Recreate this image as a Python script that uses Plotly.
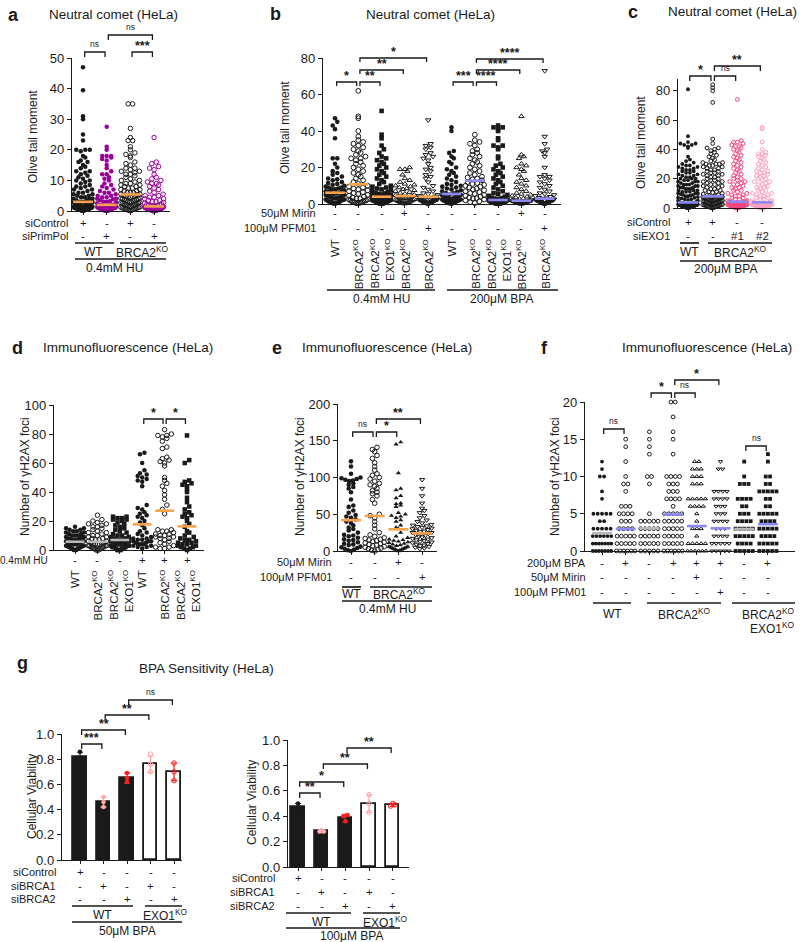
import numpy as np
import plotly.graph_objects as go

# ====================== DATA ======================
# ---- a: Neutral comet, 0.4mM HU ----
a_siControl = ["+", "-", "+", "-"]
a_siPrimPol = ["-", "+", "-", "+"]
a_wt_ctrl = [47, 39.5, 31, 30, 25, 23, 20, 20, 20, 19.5, 18, 17.5, 16.5, 16, 16, 15, 14.5, 14, 13, 13, 12.5, 12, 11.5, 11,
             10.5, 10, 10, 9.5, 9, 8.5, 8, 8, 7.5, 7, 7, 6.5, 6, 6, 5.5, 5.5, 5, 5, 4.5, 4.5, 4, 4, 4, 3.5, 3.5, 3, 3, 3,
             2.9, 2.8, 2.7, 2.6, 2.5, 2.5, 2.4, 2.3, 2.2, 2.1, 2, 2, 2, 1.9, 1.8, 1.7, 1.6, 1.5, 1.5, 1.5, 1.4, 1.3, 1.2,
             1.1, 1, 1, 1, 1, 0.9, 0.9, 0.8, 0.8, 0.7, 0.7, 0.6, 0.6, 0.5, 0.5, 0.5, 0.4, 0.4, 0.3, 0.3, 0.3, 0.2, 0.2,
             0.15, 0.1, 0.1]
a_wt_prim = [27.5, 21, 20, 18, 18, 18, 17.5, 17, 16.5, 15, 14, 13, 12, 12, 11, 10.5, 10, 9, 8.5, 8, 7.5, 7, 6.5, 6, 6,
             5.5, 5, 5, 4.5, 4.5, 4, 4, 3.8, 3.5, 3.2, 3, 3, 2.8, 2.5, 2.2, 2, 2, 1.95, 1.9, 1.85, 1.8, 1.7, 1.6, 1.5,
             1.5, 1.4, 1.3, 1.2, 1.2, 1.1, 1, 1, 1, 0.95, 0.9, 0.9, 0.8, 0.8, 0.7, 0.7, 0.6, 0.6, 0.5, 0.5, 0.5, 0.4,
             0.4, 0.3, 0.3, 0.3, 0.2, 0.2, 0.2, 0.1, 0.1, 0.1, 0.05]
a_ko_ctrl = [35, 35, 27, 24, 23, 23, 21, 20, 19, 18.5, 18, 17.5, 16, 15.5, 15, 14, 14, 13.5, 13, 13, 12.5, 12, 12, 11.5,
             11, 10.5, 10, 10, 9.5, 9, 9, 8.5, 8.5, 8, 8, 7.5, 7.5, 7, 7, 6.5, 6.5, 6, 6, 6, 5.5, 5.5, 5.3, 5, 5, 4.8,
             4.7, 4.5, 4.5, 4.3, 4.2, 4, 4, 3.8, 3.7, 3.5, 3.5, 3.3, 3.2, 3, 3, 2.8, 2.7, 2.6, 2.5, 2.5, 2.3, 2.2, 2.1,
             2, 2, 1.8, 1.7, 1.5, 1.5, 1.3, 1.2, 1.1, 1, 1, 0.9, 0.8, 0.7, 0.6, 0.5, 0.4, 0.3, 0.2, 0.1]
a_ko_prim = [24, 16, 15.5, 14.5, 14, 13.5, 12, 11, 10.5, 10, 9.5, 9, 9, 8.5, 8, 7.5, 7, 6.5, 6, 5.5, 5, 5, 4.5, 4.5, 4, 4,
             3.5, 3.5, 3, 3, 2.8, 2.5, 2.3, 2.1, 2, 1.9, 1.8, 1.7, 1.5, 1.5, 1.4, 1.3, 1.2, 1.15, 1.1, 1.05, 1, 1, 0.95,
             0.9, 0.9, 0.85, 0.8, 0.8, 0.75, 0.7, 0.7, 0.65, 0.6, 0.6, 0.55, 0.5, 0.5, 0.45, 0.4, 0.4, 0.35, 0.3, 0.3,
             0.25, 0.2, 0.2, 0.15, 0.1, 0.1, 0.05]
a_median = [3.0, 2.0, 5.4, 1.5]

# ---- b: Neutral comet, HU and BPA ----
b_mirin = ["-", "-", "-", "+", "-", "-", "-", "-", "+", "-"]
b_pfm01 = ["-", "-", "-", "-", "+", "-", "-", "-", "-", "+"]
b_labels = ["WT", "BRCA2<sup>KO</sup>", "BRCA2<sup>KO</sup><br>EXO1<sup>KO</sup>", "BRCA2<sup>KO</sup>", "BRCA2<sup>KO</sup>"] * 2
b_hu_wt = [47, 45, 43, 41, 36, 25, 25, 22, 20, 18, 17, 16, 15, 14, 13.5, 13, 12, 11.5, 11, 10.5, 10, 9.5, 9, 9, 8.5, 8,
           8, 7.5, 7, 7, 6.8, 6.2, 6, 5.8, 5.5, 5, 5, 4.5, 4.5, 4, 4, 3.5, 3.5, 3, 3, 2.5, 2.5, 2, 2, 1.5, 1.5, 1, 1,
           0.8, 0.5, 0.5, 0.3, 0.2, 1.2, 2.2, 3.2]
b_hu_ko = [62, 48, 47, 40, 37, 35, 34, 33, 32, 31, 30, 29, 28, 27, 26, 25, 25, 24, 23, 22, 21, 20, 19, 18, 17, 16, 15, 14,
           13, 12, 11, 10, 9.5, 9, 8.5, 8, 7.5, 7, 6.5, 6, 5.5, 5, 4.5, 4, 3.5, 3, 3, 2.5, 2.5, 2, 2, 1.5, 1.5, 1, 1,
           0.5, 0.5, 0.3, 0.8, 1.2, 1.8]
b_hu_ko_exo1 = [51, 38, 36, 32, 30, 28, 26, 25, 24, 23, 22, 21, 20, 19, 18, 17, 16, 15, 14, 13, 12, 11, 10, 9.5, 9, 8.5,
                8, 7.5, 7, 6.5, 6, 5.8, 5.5, 5.2, 5, 4.8, 4.5, 4.3, 4.1, 3.9, 3.7, 3.5, 3.3, 3.1, 2.9, 2.7, 2.5, 2.3,
                2.1, 1.9, 1.7, 1.5, 1.3, 1.1, 0.9, 0.7, 0.5, 0.3, 0.1, 0.2, 0.4, 0.6, 0.8, 1.0, 1.2, 1.4, 1.6, 1.8,
                2.0, 2.2, 2.4, 2.6, 2.8, 3.0, 3.2, 3.4, 3.6]
b_hu_ko_mirin = [20, 19, 19, 18, 16, 14, 13, 12, 11, 10.5, 10, 9.5, 9, 8.5, 8, 7.5, 7, 6.5, 6, 5.5, 5, 4.8, 4.2, 4, 3.8,
                 3.5, 3.2, 3, 2.8, 2.5, 2.2, 2, 1.8, 1.5, 1.2, 1, 0.8, 0.5, 0.3, 0.2, 1.3, 2.3, 3.3, 0.6]
b_hu_ko_pfm = [46, 33, 32, 31, 30, 28, 27, 26, 25, 24, 22, 20, 19, 18, 16, 15, 14, 12, 10, 9, 8, 7, 6, 5.5, 5, 4.5, 4.2,
               3.8, 3.5, 3.2, 3, 2.8, 2.5, 2.2, 2, 1.8, 1.5, 1.2, 1, 0.8, 0.5, 0.3, 0.2, 1.4, 2.4, 3.4, 0.6, 0.9, 1.6,
               2.6, 3.6, 0.4, 1.1, 2.1]
b_bpa_wt = [42, 40, 29, 28, 26, 25, 23, 22, 20, 19, 18, 17, 16, 15, 14, 13, 12, 11, 10.5, 10, 9.5, 9, 8.5, 8, 7.5, 7, 6.5,
            6, 5.8, 5.2, 5, 4.8, 4.5, 4.2, 4, 3.8, 3.5, 3.2, 3, 2.8, 2.5, 2.2, 2, 1.8, 1.5, 1.2, 1, 0.8, 0.5, 0.3, 0.2,
            1.4, 2.4, 3.4, 4.4, 0.6, 1.6, 2.6]
b_bpa_ko = [38, 35, 34, 33, 32, 30, 29, 28, 27, 26, 25, 24, 23, 22, 21, 20, 19, 18, 17, 16, 15, 14.5, 14, 13.5, 13, 12,
            11.5, 11, 10.5, 10, 9.5, 9, 8.5, 8, 7.5, 7, 6.5, 6, 5.5, 5, 4.5, 4, 3.5, 3, 2.5, 2, 1.5, 1, 0.5, 3.2]
b_bpa_ko_exo1 = [43, 42, 42, 41, 40, 36, 35, 32, 32, 31, 30, 26, 25, 22, 21, 20, 19, 18, 17, 16, 15, 14, 13, 12, 11, 10,
                 9, 8, 7, 6, 5.5, 5, 4.5, 4, 3.5, 3.2, 3, 2.8, 2.6, 2.4, 2.3, 2.2, 2.1, 2, 1.9, 1.8, 1.7, 1.6, 1.5,
                 1.4, 1.3, 1.2, 1.1, 1, 0.9, 0.8, 0.7, 0.6, 0.5, 0.4, 0.3, 0.2, 0.1, 0.15, 0.25, 0.35, 0.45, 0.55,
                 0.65, 0.75, 0.85, 0.95, 1.05, 1.15, 1.25, 1.35, 1.45, 1.55]
b_bpa_ko_mirin = [48, 27, 26, 25, 22, 21, 20, 19, 18, 16, 14, 13, 12, 11, 10, 9, 8, 7, 6, 5.5, 5, 4.5, 4, 3.5, 3, 2.8,
                  2.5, 2.2, 1.9, 1.8, 1.7, 1.6, 1.5, 1.4, 1.3, 1.2, 1.1, 1, 0.9, 0.8, 0.7, 0.6, 0.5, 0.4, 0.3, 0.2,
                  0.1, 0.15, 0.35, 0.55, 0.75, 0.95, 1.15, 1.35, 1.55, 1.75]
b_bpa_ko_pfm = [73, 37, 33, 30, 29, 28, 26, 20, 16, 15, 15, 14, 13, 12, 11, 10, 9, 8, 7, 6, 5.5, 5, 4.5, 4, 3.5, 3.2,
                2.8, 2.6, 2.4, 2.2, 2, 1.8, 1.6, 1.4, 1.2, 1, 0.8, 0.6, 0.4, 0.2, 0.1, 0.3, 0.5, 0.7, 0.9, 1.1, 1.3,
                1.5, 1.7, 1.9, 2.1, 2.3]
b_median = [6.2, 10.8, 4.0, 4.4, 4.0, 5.5, 12.8, 2.2, 1.8, 2.9]

# ---- c: Neutral comet, 200uM BPA ----
c_siControl = ["+", "+", "-", "-"]
c_siEXO1 = ["-", "-", "#1", "#2"]
c_wt_ctrl = [81, 49, 45, 44, 44, 43, 43, 42, 41, 35, 33, 32, 31, 30, 29, 29, 28, 28, 27, 27, 26, 26, 25, 25, 24, 24, 23,
             23, 22, 22, 21, 21, 20, 20, 20, 19, 19, 18, 18, 18, 17, 17, 16, 16, 16, 15, 15, 15, 14, 14, 14, 13, 13, 13,
             12, 12, 12, 11, 11, 11, 10, 10, 10, 9.5, 9, 9, 8.5, 8, 8, 7.5, 7, 7, 6.5, 6, 6, 5.5, 5, 5, 4.5, 4.2, 4,
             3.9, 3.7, 3.6, 3.5, 3.4, 3.3, 3.2, 3.1, 3.0, 2.9, 2.8, 2.7, 2.6, 2.5, 2.4, 2.3, 2.2, 2.1, 2.0, 1.9, 1.8,
             1.7, 1.6, 1.5, 1.4, 1.3, 1.2, 1.1, 1.0, 0.9, 0.8, 0.7, 0.6, 0.5, 0.4, 0.3, 0.2, 0.1, 0.0, 3.65, 3.25,
             2.85, 2.45, 2.05, 1.65, 1.25, 0.85, 0.45, 0.05, 0.25, 0.65, 1.05, 1.45, 1.85, 2.25, 2.65, 3.05, 3.45,
             0.15, 0.35, 0.55, 0.75]
c_ko_ctrl = [84, 82, 80, 72, 47, 44, 41, 41, 40, 39, 38, 37, 36, 35, 34, 33, 32, 31, 31, 30, 30, 30, 29, 29, 28, 28, 27,
             27, 26, 26, 25, 25, 24, 24, 23, 23, 22, 22, 21, 21, 20, 20, 19, 19, 18, 18, 17, 17, 16, 16, 15, 15, 14, 14,
             13, 13, 12, 12, 11, 11, 10.5, 10, 9.5, 9, 8.5, 8, 7.8, 7.5, 7.2, 7, 6.8, 6.5, 6.2, 6, 5.8, 5.5, 5.2, 5,
             4.8, 4.5, 4.2, 4, 3.8, 3.5, 3.2, 3, 2.8, 2.5, 2.2, 2, 1.8, 1.5, 1.2, 1, 0.8, 0.5, 0.2, 0, 0.3, 0.6, 0.9,
             1.3, 1.6, 1.9, 2.3, 2.6, 2.9, 3.3, 3.6, 3.9, 4.3, 4.6, 4.9, 5.3, 5.6, 5.9, 6.3, 6.6, 6.9, 7.3, 7.6]
c_ko_siexo1_1 = [74, 46, 45, 45, 44, 43, 42, 42, 41, 40, 39, 38, 37, 36, 35, 34, 33, 32, 31, 30, 29, 28, 27, 26, 25, 24,
                 23, 22, 21, 20, 20, 19, 18, 18, 17, 16, 16, 15, 14, 14, 13, 12, 12, 11, 10, 10, 9, 9, 8, 8, 7, 7, 6,
                 6, 5, 5, 4.5, 4.2, 4.0, 3.8, 3.6, 3.4, 3.2, 3.0, 2.8, 2.6, 2.4, 2.2, 2.0, 1.8, 1.6, 1.4, 1.2, 1.0,
                 0.8, 0.6, 0.4, 0.2, 0.0, 0.1, 0.3, 0.5, 0.7, 0.9, 1.1, 1.3, 1.5, 1.7, 1.9, 2.1, 2.3, 2.5, 2.7, 2.9,
                 3.1, 3.3, 3.5, 3.7, 3.9, 4.1, 0.05, 0.15]
c_ko_siexo1_2 = [55, 54, 45, 40, 38, 37, 37, 36, 35, 34, 33, 32, 31, 30, 29, 28, 27, 26, 25, 25, 24, 24, 23, 22, 22, 21,
                 20, 20, 19, 18, 18, 17, 16, 16, 15, 14, 14, 13, 12, 12, 11, 10, 10, 9, 9, 8, 8, 7, 7, 6, 6, 5, 5, 4.5,
                 4, 3.7, 3.5, 3.3, 3.1, 2.9, 2.7, 2.5, 2.3, 2.1, 1.9, 1.7, 1.5, 1.3, 1.1, 0.9, 0.7, 0.5, 0.3, 0.1, 0.0,
                 0.2, 0.4, 0.6, 0.8, 1.0, 1.2, 1.4, 1.6, 1.8, 2.0, 2.2, 2.4, 2.6, 2.8, 3.0, 3.2, 3.4, 3.6, 0.05, 0.15]
c_median = [3.8, 7.9, 4.3, 3.8]

# ---- d: Immunofluorescence, gH2AX foci, +/- HU ----
d_hu = ["-", "-", "-", "+", "+", "+"]
d_labels = ["WT", "BRCA2<sup>KO</sup>", "BRCA2<sup>KO</sup><br>EXO1<sup>KO</sup>"] * 2
d_wt = [16, 15, 15, 14, 14, 13, 13, 12, 12, 11, 11, 10, 10, 10, 9, 9, 9, 8, 8, 8, 7, 7, 7, 6, 6, 5, 5, 5, 4, 4, 4, 3, 3,
        3, 2, 2, 2, 1, 1, 1, 0, 0, 0, 1, 2, 3, 4, 5, 6]
d_ko = [24, 21, 20, 19, 18, 18, 17, 16, 16, 15, 14, 13, 12, 12, 11, 10, 10, 9, 9, 8, 8, 7, 7, 6, 6, 5, 5, 5, 4, 4, 4, 3,
        3, 3, 2, 2, 2, 1, 1, 1, 0, 0, 0, 1, 2, 3, 4]
d_ko_exo1 = [23, 23, 22, 22, 21, 21, 20, 19, 18, 17, 16, 15, 14, 13, 12, 11, 10, 10, 9, 9, 8, 8, 7, 7, 6, 6, 5, 5, 4, 4,
             3, 3, 2, 2, 1, 1, 0, 0, 1, 2, 3, 4, 5, 6, 0]
d_hu_wt = [67, 66, 60, 55, 53, 52, 51, 50, 49, 48, 47, 44, 31, 29, 28, 26, 25, 24, 23, 22, 20, 19, 17, 15, 13, 12, 11, 10,
           9, 8, 7, 7, 6, 6, 5, 5, 4, 4, 3, 3, 2, 2, 1, 8, 6, 4]
d_hu_ko = [83, 80, 79, 79, 78, 77, 75, 71, 70, 64, 63, 62, 61, 60, 58, 50, 48, 46, 44, 41, 38, 35, 31, 28, 25, 14, 14, 13,
           13, 12, 11, 11, 10, 10, 9, 9, 8, 8, 7, 6, 5, 4, 3, 2, 2, 1, 1]
d_hu_ko_exo1 = [79, 62, 60, 48, 47, 46, 45, 44, 42, 40, 36, 33, 30, 28, 26, 25, 24, 23, 22, 20, 18, 16, 13, 12, 10, 9, 8,
                7, 7, 6, 5, 5, 4, 4, 3, 3, 2, 2, 1, 1, 0]
d_median = [5.7, 5.7, 6.9, 17.7, 27.1, 16.3]

# ---- e: Immunofluorescence, 0.4mM HU ----
e_mirin = ["-", "-", "+", "-"]
e_pfm01 = ["-", "-", "-", "+"]
e_wt = [122, 115, 105, 100, 99, 98, 97, 96, 95, 92, 90, 87, 85, 80, 70, 62, 60, 55, 52, 49, 47, 45, 43, 40, 38, 35, 32,
        30, 28, 25, 22, 20, 18, 16, 14, 12, 10, 8, 6, 5, 4, 3, 2, 1, 0, 9, 15, 21]
e_ko = [141, 138, 135, 130, 126, 120, 115, 110, 105, 103, 100, 98, 95, 92, 90, 88, 85, 82, 80, 78, 75, 70, 65, 50, 48,
        45, 40, 35, 30, 25, 22, 20, 18, 16, 14, 12, 10, 9, 8, 7, 6, 5, 4, 3, 2, 1, 0, 11, 13, 15, 17]
e_ko_mirin = [148, 145, 106, 85, 83, 75, 72, 65, 64, 62, 60, 52, 50, 48, 47, 45, 42, 40, 35, 32, 30, 25, 20, 18, 16, 14,
              12, 10, 9, 8, 7, 6, 5, 4, 3, 2, 1, 0, 1, 3, 5, 11, 13, 15, 2, 4, 6]
e_ko_pfm = [97, 85, 75, 65, 58, 55, 52, 48, 45, 42, 40, 38, 36, 34, 32, 30, 28, 26, 25, 24, 22, 21, 20, 19, 18, 17, 16,
            15, 14, 13, 12, 11, 10, 9, 8, 7, 6, 5, 4, 3, 25, 27, 29, 31, 33, 35]
e_median = [42, 47.6, 29.5, 24]

# ---- f: Immunofluorescence, BPA (frequency of cells with 0,1,2,... foci) ----
f_bpa = ["-", "+", "-", "+", "+", "+", "-", "+"]
f_mirin = ["-", "-", "-", "-", "+", "-", "-", "-"]
f_pfm01 = ["-", "-", "-", "-", "-", "+", "-", "-"]
f_wt_counts = [7, 7, 6, 5, 2, 5, 0, 1, 1, 0, 2, 1, 1]
f_wt_bpa_counts = [6, 5, 5, 4, 3, 4, 3, 0, 1, 2, 1, 0, 1, 0, 1, 1]
f_ko_counts = [5, 5, 5, 5, 5, 1, 0, 0, 0, 1, 2, 0, 0, 1, 1, 1, 1]
f_ko_bpa_counts = [6, 5, 5, 5, 5, 5, 1, 4, 3, 3, 4, 0, 0, 1, 0, 1, 1, 0, 1, 0, 2]
f_ko_bpa_mirin_counts = [6, 5, 1, 3, 1, 1, 4, 5, 0, 3, 3, 3, 2]
f_ko_bpa_pfm_counts = [5, 5, 4, 3, 4, 3, 3, 4, 4, 0, 0, 2, 1]
f_ko_exo1_counts = [5, 4, 5, 5, 4, 3, 2, 4, 0, 3, 1, 0, 1]
f_ko_exo1_bpa_counts = [5, 5, 4, 5, 4, 5, 2, 2, 5, 2, 2, 0, 1, 1]
f_centre = [2.4, 2.95, 3.05, 4.9, 3.35, 3.05, 2.95, 3.6]

# ---- g: BPA sensitivity ----
g_siControl = ["+", "-", "-", "-", "-"]
g_siBRCA1 = ["-", "+", "-", "+", "-"]
g_siBRCA2 = ["-", "-", "+", "-", "+"]
g50_mean = [0.82, 0.46, 0.65, 0.76, 0.70]
g50_sd = [0.035, 0.04, 0.04, 0.065, 0.07]
g50_points = [[0.86, 0.81, 0.80], [0.50, 0.46, 0.42], [0.69, 0.65, 0.62], [0.84, 0.76, 0.70], [0.77, 0.70, 0.63]]
g100_mean = [0.47, 0.28, 0.385, 0.50, 0.49]
g100_sd = [0.03, 0.01, 0.03, 0.07, 0.012]
g100_points = [[0.50, 0.47, 0.45], [0.29, 0.28, 0.28], [0.41, 0.40, 0.36], [0.57, 0.50, 0.43], [0.50, 0.49, 0.48]]

# ====================== STYLE / GEOMETRY ======================
W, H = 800, 942
FONT = "Liberation Sans, Arial, Helvetica, sans-serif"
INK = "#1a1a1a"
ORANGE = "#f9a24a"
BLUE = "#8a8af2"
GRAY = "#b8b8b8"
PURPLE = "#990099"
HOTPINK = "#f2457f"
LIGHTPINK = "#ff9fc2"
RED = "#ff1f1f"
PINK = "#ffa8a8"
TICK = 13
LAB = 12
ROWLAB = 11
CELL = 11.5

GEOM = {
    "a": dict(left=72, right=170, top=58, bottom=211, c0=83, step=23.7, ymax=50, yticks=[0, 10, 20, 30, 40, 50], n=4),
    "b": dict(left=323, right=561, top=58, bottom=204, c0=335, step=23.3, ymax=80, yticks=[0, 20, 40, 60, 80], n=10),
    "c": dict(left=678, right=782, top=79, bottom=208, c0=688, step=24.7, ymax=88, yticks=[0, 20, 40, 60, 80], n=4),
    "d": dict(left=54, right=204, top=405, bottom=550, c0=75, step=22.4, ymax=100, yticks=[0, 20, 40, 60, 80, 100], n=6),
    "e": dict(left=338, right=437, top=404, bottom=551, c0=351, step=23.7, ymax=200, yticks=[0, 50, 100, 150, 200], n=4),
    "f": dict(left=585, right=795, top=402, bottom=551, c0=602, step=23.7, ymax=20, yticks=[0, 5, 10, 15, 20], n=8),
    "g1": dict(left=62, right=182, top=734, bottom=860, c0=80, step=23.5, ymax=1.0, yticks=[0, .2, .4, .6, .8, 1.0], n=5, fmt=".1f"),
    "g2": dict(left=288, right=409, top=740, bottom=867, c0=298, step=23.7, ymax=1.0, yticks=[0, .2, .4, .6, .8, 1.0], n=5, fmt=".1f"),
}


def px(x):
    return x / W


def py(y):
    return 1 - y / H


fig = go.Figure()
annotations, shapes, axes = [], [], {}
REF = {}
for k, (name, g) in enumerate(GEOM.items(), start=1):
    sfx = "" if k == 1 else str(k)
    REF[name] = ("x" + sfx, "y" + sfx)
    xr = [(g["left"] - g["c0"]) / g["step"], (g["right"] - g["c0"]) / g["step"]]
    axes["xaxis" + sfx] = dict(domain=[px(g["left"]), px(g["right"])], range=xr, anchor="y" + sfx,
                               showline=True, linecolor=INK, linewidth=1.4, ticks="outside",
                               tickvals=list(range(g["n"])), ticklen=3, tickwidth=1.1, tickcolor=INK,
                               showticklabels=False, showgrid=False, zeroline=False, fixedrange=True,
                               automargin=False)
    axes["yaxis" + sfx] = dict(domain=[py(g["bottom"]), py(g["top"])], range=[0, g["ymax"]], anchor="x" + sfx,
                               showline=True, linecolor=INK, linewidth=1.4, ticks="outside", tickvals=g["yticks"],
                               ticklen=4, tickwidth=1.2, tickcolor=INK, tickformat=g.get("fmt", ""),
                               tickfont=dict(size=TICK, color=INK, family=FONT),
                               showgrid=False, zeroline=False, fixedrange=True, automargin=False)


def swarm(vals, ppu_y, ppu_x, binh, sp, maxw):
    vals = np.asarray(vals, float)
    bins = np.floor(vals * ppu_y / binh + 1e-6).astype(int)
    off = np.zeros(len(vals))
    for b in np.unique(bins):
        idx = np.where(bins == b)[0]
        idx = idx[np.argsort(vals[idx], kind="stable")]
        n = len(idx)
        if n == 1:
            continue
        s = min(sp, maxw / (n - 1))
        slots = (np.arange(n) - (n - 1) / 2) * s
        order = np.argsort(np.abs(slots) + 1e-9 * np.arange(n), kind="stable")
        for j, i in enumerate(idx):
            off[i] = slots[order[j]]
    return off / ppu_x


def dots(p, col, vals, symbol, color, size, diam=None, binh=None, open_=False, maxw=None):
    g = GEOM[p]
    ppu_y = (g["bottom"] - g["top"]) / g["ymax"]
    diam = diam or size
    binh = binh or diam
    maxw = maxw or g["step"] * 0.8
    off = swarm(vals, ppu_y, g["step"], binh, diam, maxw)
    xr, yr = REF[p]
    mk = dict(symbol=symbol, size=size, color=color)
    mk["line"] = dict(width=1.0 if open_ else 0, color=color)
    fig.add_trace(go.Scatter(x=col + off, y=vals, mode="markers", xaxis=xr, yaxis=yr, marker=mk,
                             cliponaxis=False, showlegend=False, hoverinfo="skip"))


def cline(p, col, val, color, half=0.42, width=2.6):
    xr, yr = REF[p]
    fig.add_trace(go.Scatter(x=[col - half, col + half], y=[val, val], mode="lines", xaxis=xr, yaxis=yr,
                             line=dict(color=color, width=width), cliponaxis=False, showlegend=False,
                             hoverinfo="skip"))


def text(x, y, s, size=11, xanchor="center", yanchor="middle", bold=False, angle=0, xref="paper", align="center",
         color=INK):
    annotations.append(dict(x=x if xref != "paper" else px(x), y=py(y), xref=xref, yref="paper",
                            text=("<b>%s</b>" % s) if bold else s, showarrow=False, xanchor=xanchor,
                            yanchor=yanchor, textangle=angle, align=align,
                            font=dict(size=size, color=color, family=FONT)))


def hline(x1, x2, y, w=1.7):
    shapes.append(dict(type="line", xref="paper", yref="paper", x0=px(x1), x1=px(x2), y0=py(y), y1=py(y),
                       line=dict(color=INK, width=w)))


def bracket(p, i, j, y, label, drop=5):
    xr = REF[p][0]
    a, b = i + 0.07, j - 0.07
    shapes.append(dict(type="path", xref=xr, yref="paper",
                       path="M %f,%f L %f,%f L %f,%f L %f,%f" % (a, py(y + drop), a, py(y), b, py(y), b,
                                                                 py(y + drop)),
                       line=dict(color=INK, width=1.3)))
    if label == "ns":
        text((i + j) / 2, y - 1, "ns", size=8.5, yanchor="bottom", xref=xr)
    else:
        text((i + j) / 2, y + 3, label, size=12.5, yanchor="bottom", xref=xr, bold=True)


def row(p, y, label, cells, right, lsize=ROWLAB):
    text(right, y, label, size=lsize, xanchor="right")
    for i, c in enumerate(cells):
        text(i, y, c, size=CELL, xref=REF[p][0])


def vlabels(p, labels, ytop, size=11.5):
    for i, s in enumerate(labels):
        text(i, ytop, s, size=size, xref=REF[p][0], yanchor="top", angle=-90, align="right")


def title(letter, lx, ly, s, cx, cy, xanchor="center"):
    text(lx, ly, letter, size=18, bold=True)
    text(cx, cy, s, size=13.5, xanchor=xanchor)


# ====================== PANEL a ======================
title("a", 13, 15, "Neutral comet (HeLa)", 114, 15)
dots("a", 0, a_wt_ctrl, "circle", INK, 4.5)
dots("a", 1, a_wt_prim, "circle", PURPLE, 4.5)
dots("a", 2, a_ko_ctrl, "circle-open", INK, 4.5, open_=True)
dots("a", 3, a_ko_prim, "circle-open", PURPLE, 4.5, open_=True)
for i, m in enumerate(a_median):
    cline("a", i, m, ORANGE)
text(33, 137, "Olive tail moment", size=LAB, angle=-90)
bracket("a", 0, 1, 52, "ns")
bracket("a", 1, 3, 35, "ns")
bracket("a", 2, 3, 52, "***")
row("a", 223, "siControl", a_siControl, 70)
row("a", 236, "siPrimPol", a_siPrimPol, 70)
hline(75, 114, 243)
hline(120, 166, 243)
text(93, 252, "WT", LAB)
text(142, 252, "BRCA2<sup>KO</sup>", LAB)
hline(75, 166, 259)
text(115, 268, "0.4mM HU", LAB)

# ====================== PANEL b ======================
title("b", 275, 14, "Neutral comet (HeLa)", 430, 15)
b_cols = [b_hu_wt, b_hu_ko, b_hu_ko_exo1, b_hu_ko_mirin, b_hu_ko_pfm,
          b_bpa_wt, b_bpa_ko, b_bpa_ko_exo1, b_bpa_ko_mirin, b_bpa_ko_pfm]
b_sym = ["circle", "circle-open", "square", "triangle-up-open", "triangle-down-open"] * 2
for i, v in enumerate(b_cols):
    op = "open" in b_sym[i]
    dots("b", i, v, b_sym[i], INK, 4.6 if not op else 4.8, open_=op)
for i, m in enumerate(b_median):
    cline("b", i, m, ORANGE if i < 5 else BLUE)
text(285, 128, "Olive tail moment", size=LAB, angle=-90)
bracket("b", 0, 1, 82, "*", drop=4)
bracket("b", 1, 2, 82, "**", drop=4)
bracket("b", 1, 3, 70, "**", drop=4)
bracket("b", 1, 4, 58, "*", drop=4)
bracket("b", 5, 6, 82, "***", drop=4)
bracket("b", 6, 7, 82, "****", drop=4)
bracket("b", 6, 8, 70, "****", drop=4)
bracket("b", 6, 9, 59, "****", drop=4)
row("b", 213, "50μM Mirin", b_mirin, 318)
row("b", 228, "100μM PFM01", b_pfm01, 318)
vlabels("b", b_labels, 237)
hline(327, 435, 290)
hline(447, 558, 290)
text(381, 299, "0.4mM HU", LAB)
text(502, 299, "200μM BPA", LAB)

# ====================== PANEL c ======================
title("c", 633, 12, "Neutral comet (HeLa)", 799, 12, xanchor="right")
dots("c", 0, c_wt_ctrl, "circle", INK, 3.8)
dots("c", 1, c_ko_ctrl, "circle-open", INK, 3.8, open_=True)
dots("c", 2, c_ko_siexo1_1, "circle-open", HOTPINK, 3.8, open_=True)
dots("c", 3, c_ko_siexo1_2, "circle-open", LIGHTPINK, 3.8, open_=True)
for i, m in enumerate(c_median):
    cline("c", i, m, BLUE)
text(641, 143, "Olive tail moment", size=LAB, angle=-90)
bracket("c", 0, 1, 76, "*")
bracket("c", 1, 2, 76, "ns")
bracket("c", 1, 3, 66, "**")
row("c", 222, "siControl", c_siControl, 672)
row("c", 236, "siEXO1", c_siEXO1, 672)
hline(680, 699, 243)
hline(708, 772, 243)
text(689, 252, "WT", LAB)
text(740, 252, "BRCA2<sup>KO</sup>", LAB)
hline(680, 772, 261)
text(725, 269, "200μM BPA", LAB)

# ====================== PANEL d ======================
title("d", 17, 348, "Immunofluorescence (HeLa)", 128, 348)
d_cols = [d_wt, d_ko, d_ko_exo1, d_hu_wt, d_hu_ko, d_hu_ko_exo1]
d_sym = ["circle", "circle-open", "square"] * 2
for i, v in enumerate(d_cols):
    op = "open" in d_sym[i]
    dots("d", i, v, d_sym[i], INK, 4.5, open_=op)
for i, m in enumerate(d_median):
    cline("d", i, m, GRAY if i < 3 else ORANGE)
text(25, 477, "Number of γH2AX foci", size=LAB, angle=-90)
bracket("d", 3, 4, 419, "*")
bracket("d", 4, 5, 419, "*")
row("d", 560, "0.4mM HU", d_hu, 50, lsize=10)
vlabels("d", d_labels, 568)

# ====================== PANEL e ======================
title("e", 277, 348, "Immunofluorescence (HeLa)", 387, 348)
e_cols = [e_wt, e_ko, e_ko_mirin, e_ko_pfm]
e_sym = ["circle", "circle-open", "triangle-up", "triangle-down-open"]
for i, v in enumerate(e_cols):
    op = "open" in e_sym[i]
    dots("e", i, v, e_sym[i], INK, 4.6, open_=op)
for i, m in enumerate(e_median):
    cline("e", i, m, ORANGE)
text(300, 477, "Number of γH2AX foci", size=LAB, angle=-90)
bracket("e", 0, 1, 432, "ns")
bracket("e", 1, 2, 432, "*")
bracket("e", 1, 3, 419, "**")
row("e", 562, "50μM Mirin", e_mirin, 334)
row("e", 577, "100μM PFM01", e_pfm01, 334)
hline(342, 361, 587)
hline(370, 432, 587)
text(351, 594, "WT", LAB)
text(399, 594, "BRCA2<sup>KO</sup>", LAB)
hline(342, 432, 601)
text(387, 609, "0.4mM HU", LAB)

# ====================== PANEL f ======================
title("f", 544, 348, "Immunofluorescence (HeLa)", 794, 348, xanchor="right")
f_counts = [f_wt_counts, f_wt_bpa_counts, f_ko_counts, f_ko_bpa_counts, f_ko_bpa_mirin_counts,
            f_ko_bpa_pfm_counts, f_ko_exo1_counts, f_ko_exo1_bpa_counts]
f_sym = ["circle", "circle-open", "circle-open", "circle-open", "triangle-up-open", "triangle-down-open",
         "square", "square"]
f_ppu = (GEOM["f"]["bottom"] - GEOM["f"]["top"]) / GEOM["f"]["ymax"]
for i, cnt in enumerate(f_counts):
    vals = np.repeat(np.arange(len(cnt)), cnt)
    op = "open" in f_sym[i]
    dots("f", i, vals, f_sym[i], INK, 3.8, diam=4.3, binh=f_ppu, open_=op, maxw=GEOM["f"]["step"] * 0.78)
for i, m in enumerate(f_centre):
    cline("f", i, m, GRAY if f_bpa[i] == "-" else BLUE)
text(555, 477, "Number of γH2AX foci", size=LAB, angle=-90)
bracket("f", 0, 1, 429, "ns")
bracket("f", 2, 3, 393, "*")
bracket("f", 3, 4, 393, "ns")
bracket("f", 3, 5, 380, "*")
bracket("f", 6, 7, 446, "ns")
row("f", 563, "200μM BPA", f_bpa, 588)
row("f", 577, "50μM Mirin", f_mirin, 588)
row("f", 592, "100μM PFM01", f_pfm01, 588)
hline(593, 631, 603)
hline(647, 721, 603)
hline(732, 795, 603)
text(612, 614, "WT", LAB)
text(684, 614, "BRCA2<sup>KO</sup>", LAB)
text(797, 614, "BRCA2<sup>KO</sup>", LAB, xanchor="right")
text(797, 628, "EXO1<sup>KO</sup>", LAB, xanchor="right")

# ====================== PANEL g ======================
title("g", 22, 663, "BPA Sensitivity (HeLa)", 207, 668)
g_fill = [INK, INK, INK, "white", "white"]
g_dot = [INK, PINK, RED, PINK, RED]
g_sym = ["circle", "circle", "circle", "circle-open", "circle-open"]
for p, means, sds, pts in (("g1", g50_mean, g50_sd, g50_points), ("g2", g100_mean, g100_sd, g100_points)):
    xr, yr = REF[p]
    fig.add_trace(go.Bar(x=list(range(5)), y=means, width=0.56, xaxis=xr, yaxis=yr,
                         marker=dict(color=g_fill, line=dict(color=INK, width=1.8)),
                         showlegend=False, hoverinfo="skip"))
    for i in range(5):
        fig.add_trace(go.Scatter(x=[i], y=[means[i]], mode="markers", xaxis=xr, yaxis=yr,
                                 marker=dict(size=1, color="rgba(0,0,0,0)"),
                                 error_y=dict(type="data", array=[sds[i]], color=g_dot[i], thickness=1.2, width=3),
                                 cliponaxis=False, showlegend=False, hoverinfo="skip"))
        dots(p, i, pts[i], g_sym[i], g_dot[i], 4.5, diam=4.5, open_="open" in g_sym[i])

text(32, 797, "Cellular Viability", size=LAB, angle=-90)
text(252, 803, "Cellular Viability", size=LAB, angle=-90)
bracket("g1", 0, 1, 744, "***")
bracket("g1", 0, 2, 730, "**")
bracket("g1", 1, 3, 715, "**")
bracket("g1", 2, 4, 700, "ns")
bracket("g2", 0, 1, 793, "**")
bracket("g2", 0, 2, 782, "*")
bracket("g2", 1, 3, 764, "**")
bracket("g2", 2, 4, 748, "**")
row("g1", 872, "siControl", g_siControl, 58)
row("g1", 886, "siBRCA1", g_siBRCA1, 58)
row("g1", 899, "siBRCA2", g_siBRCA2, 58)
hline(72, 133, 906)
hline(145, 182, 906)
text(102, 915, "WT", LAB)
text(165, 915, "EXO1<sup>KO</sup>", LAB)
hline(72, 182, 922)
text(127, 931, "50μM BPA", LAB)
row("g2", 878, "siControl", g_siControl, 277)
row("g2", 892, "siBRCA1", g_siBRCA1, 277)
row("g2", 906, "siBRCA2", g_siBRCA2, 277)
hline(286, 351, 913)
hline(363, 400, 913)
text(321, 922, "WT", LAB)
text(385, 922, "EXO1<sup>KO</sup>", LAB)
hline(286, 400, 928)
text(351, 936, "100μM BPA", LAB)

fig.update_layout(width=W, height=H, margin=dict(l=0, r=0, t=0, b=0, pad=0, autoexpand=False),
                  paper_bgcolor="white", plot_bgcolor="rgba(0,0,0,0)", annotations=annotations, shapes=shapes,
                  font=dict(family=FONT, color=INK), bargap=0, showlegend=False, **axes)
fig.write_html("out.html", config={"displayModeBar": False},
               post_script="document.body.style.margin='0px';document.body.style.overflow='hidden';")
